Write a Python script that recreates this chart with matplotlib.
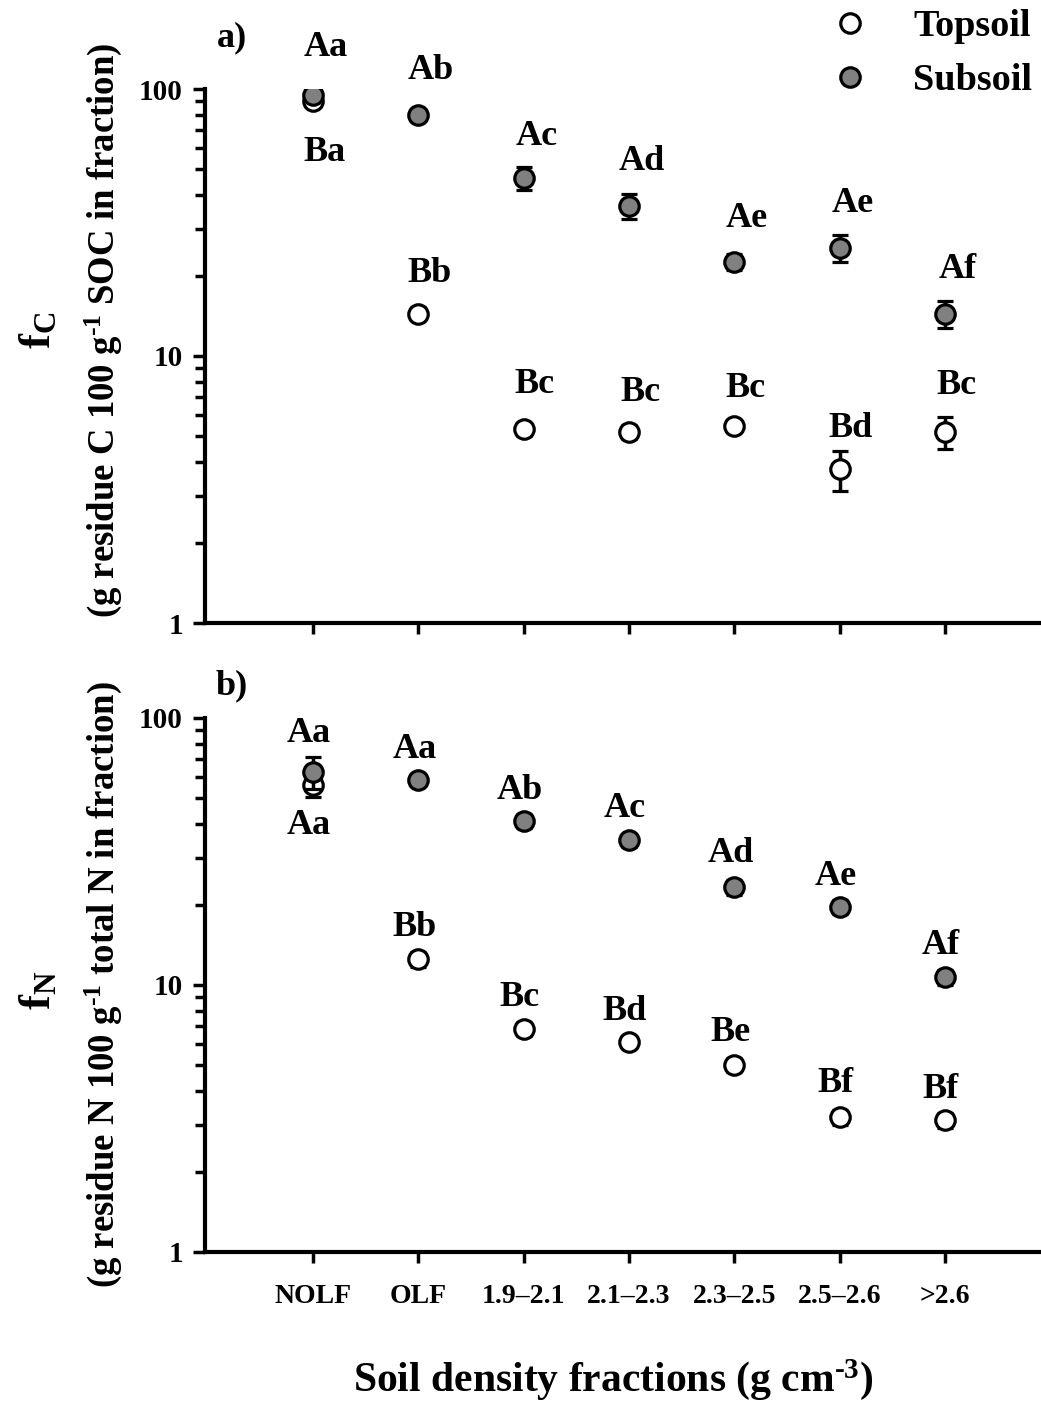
import matplotlib
matplotlib.use('Agg')
import matplotlib.pyplot as plt
from matplotlib.ticker import LogLocator, NullFormatter, FixedLocator

plt.rcParams['font.family'] = ['Liberation Serif', 'DejaVu Serif']
plt.rcParams['font.weight'] = 'bold'
plt.rcParams['mathtext.fontset'] = 'custom'
plt.rcParams['mathtext.rm'] = 'Liberation Serif:bold'
plt.rcParams['mathtext.bf'] = 'Liberation Serif:bold'
plt.rcParams['mathtext.it'] = 'Liberation Serif:bold'

categories = ['NOLF', 'OLF', '1.9\u20132.1', '2.1\u20132.3', '2.3\u20132.5', '2.5\u20132.6', '>2.6']

# panel a: fC
fc_top = [90, 14.4, 5.33, 5.2, 5.47, 3.77, 5.2]
fc_top_err = [3, 0.8, 0.3, 0.3, 0.3, 0.65, 0.7]
fc_sub = [95, 80, 46.4, 36.5, 22.5, 25.4, 14.4]
fc_sub_err = [4, 3, 4.5, 4, 1.5, 3, 1.7]
fc_top_letters = ['Ba', 'Bb', 'Bc', 'Bc', 'Bc', 'Bd', 'Bc']
fc_sub_letters = ['Aa', 'Ab', 'Ac', 'Ad', 'Ae', 'Ae', 'Af']

# panel b: fN
fn_top = [56, 12.5, 6.84, 6.12, 5.02, 3.2, 3.12]
fn_top_err = [5.5, 0.8, 0.4, 0.3, 0.3, 0.2, 0.2]
fn_sub = [62.8, 58.6, 41.1, 34.9, 23.3, 19.6, 10.7]
fn_sub_err = [8.5, 3, 2.5, 2, 1.5, 1.2, 0.7]
fn_top_letters = ['Aa', 'Bb', 'Bc', 'Bd', 'Be', 'Bf', 'Bf']
fn_sub_letters = ['Aa', 'Aa', 'Ab', 'Ac', 'Ad', 'Ae', 'Af']

W, H = 1041, 1403
fig = plt.figure(figsize=(W / 100, H / 100), dpi=100)

x = list(range(1, len(categories) + 1))


def px_axes(top, bottom):
    return fig.add_axes([205 / W, 1 - bottom / H, (W - 205) / W, (bottom - top) / H])


def style_axes(ax, show_xlabels):
    ax.set_yscale('log')
    ax.set_ylim(1, 100)
    ax.set_xlim(-0.026, 7.91)
    for s in ['top', 'right']:
        ax.spines[s].set_visible(False)
    for s in ['left', 'bottom']:
        ax.spines[s].set_linewidth(3)
    ax.yaxis.set_major_locator(FixedLocator([1, 10, 100]))
    ax.yaxis.set_major_formatter(plt.FixedFormatter(['1', '10', '100']))
    ax.yaxis.set_minor_locator(LogLocator(base=10, subs=range(2, 10)))
    ax.yaxis.set_minor_formatter(NullFormatter())
    ax.tick_params(axis='y', which='major', length=9, width=2.5, labelsize=21, pad=7, direction='out')
    ax.tick_params(axis='y', which='minor', length=7, width=2.5, direction='out')
    ax.set_xticks(x)
    if show_xlabels:
        ax.set_xticklabels(categories)
    else:
        ax.set_xticklabels([])
    ax.tick_params(axis='x', length=8, width=2.5, labelsize=20, pad=15, direction='out')


def draw_series(ax, top, top_err, sub, sub_err):
    ax.errorbar(x, top, yerr=top_err, fmt='o', ms=14, mfc='white', mec='black', mew=2.3,
                ecolor='black', elinewidth=2.5, capsize=5.5, capthick=2.5, zorder=3)
    ax.errorbar(x, sub, yerr=sub_err, fmt='o', ms=14, mfc='#808080', mec='black', mew=2.3,
                ecolor='black', elinewidth=2.5, capsize=5.5, capthick=2.5, zorder=4)


def put_letters(ax, vals, letters, dx, dy):
    for xi, v, t, d in zip(x, vals, letters, dy):
        ax.annotate(t, (xi, v), xytext=(dx, d), textcoords='offset points',
                    ha='center', va='center', fontsize=26, fontweight='bold',
                    annotation_clip=False)


# panel a
ax1 = px_axes(89, 623)
style_axes(ax1, False)
draw_series(ax1, fc_top, fc_top_err, fc_sub, fc_sub_err)
put_letters(ax1, fc_sub, fc_sub_letters, 9, [34, 32, 30, 32, 31, 32, 32])
put_letters(ax1, fc_top, fc_top_letters, 8, [-37, 29, 32, 28, 27, 29, 33])

# panel b
ax2 = px_axes(718, 1252)
style_axes(ax2, True)
draw_series(ax2, fn_top, fn_top_err, fn_sub, fn_sub_err)
put_letters(ax2, fn_sub, fn_sub_letters, -3, [28, 22, 22, 23, 24, 22, 23])
put_letters(ax2, fn_top, fn_top_letters, -3, [-29, 23, 23, 22, 23, 24, 22])

# panel tags
fig.text(232 / W, 1 - 38 / H, 'a)', fontsize=26, ha='center', va='center')
fig.text(232 / W, 1 - 686 / H, 'b)', fontsize=26, ha='center', va='center')

# y labels
fig.text(38 / W, 1 - 330 / H, r'f$_{\mathregular{C}}$', fontsize=32, rotation=90, ha='center', va='center')
fig.text(103 / W, 1 - 330 / H, r'(g residue C 100 g$^{\text{-1}}$ SOC in fraction)',
         fontsize=26.5, rotation=90, ha='center', va='center')
fig.text(38 / W, 1 - 990 / H, r'f$_{\mathregular{N}}$', fontsize=32, rotation=90, ha='center', va='center')
fig.text(103 / W, 1 - 985 / H, r'(g residue N 100 g$^{\text{-1}}$ total N in fraction)',
         fontsize=26.5, rotation=90, ha='center', va='center')

# x label
fig.text(613 / W, 1 - 1380 / H, r'Soil density fractions (g cm$^{\text{-3}}$)',
         fontsize=30, ha='center', va='center')

# legend
h_top, = ax1.plot([], [], 'o', ms=14, mfc='white', mec='black', mew=2.3)
h_sub, = ax1.plot([], [], 'o', ms=14, mfc='#808080', mec='black', mew=2.3)
fig.legend([h_top, h_sub], ['Topsoil', 'Subsoil'], loc='upper right',
           bbox_to_anchor=(1032 / W, 1 - 9 / H), bbox_transform=fig.transFigure,
           frameon=False, fontsize=27.5, handlelength=1, handletextpad=1.15,
           labelspacing=0.5, borderpad=0, borderaxespad=0, numpoints=1)

fig.savefig('out.png', dpi=100)
